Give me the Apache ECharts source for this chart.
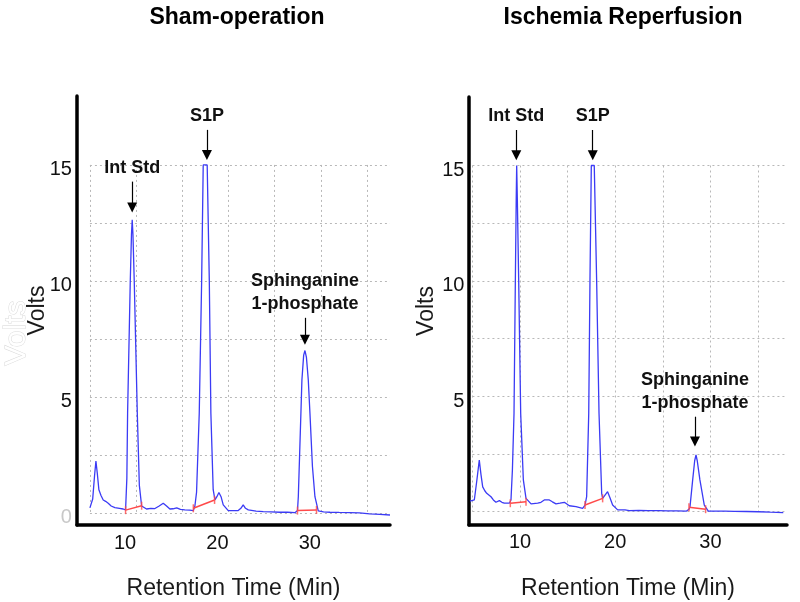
<!DOCTYPE html>
<html>
<head>
<meta charset="utf-8">
<script src="https://cdn.jsdelivr.net/npm/echarts@6/dist/echarts.min.js"></script>
<style>
html,body{margin:0;padding:0;background:#fff;}
#chart{width:800px;height:602px;}
</style>
</head>
<body>
<div id="chart"></div>
<script>
// ---------- data ----------
const panelTitles = ['Sham-operation', 'Ischemia Reperfusion'];
const xAxisTitle = 'Retention Time (Min)';
const yAxisTitle = 'Volts';
const xTickLabels = [10, 20, 30];
const yTickLabels = [5, 10, 15];
const peakNames = ['Int Std', 'S1P', 'Sphinganine\n1-phosphate'];

// Sham-operation chromatogram
const shamTime = [5.0,5.3,5.5,5.65,5.8,5.97,6.2,6.44,6.7,6.98,7.3,7.7,8.2,8.6,8.86,9.0,9.08,9.37,9.5,9.58,9.66,9.8,10.13,10.35,10.6,11.13,11.6,12.04,12.5,12.94,13.3,13.66,14.0,14.4,14.8,15.28,15.8,16.2,16.37,16.55,16.84,17.1,17.27,17.7,17.93,18.1,18.35,18.54,18.75,18.97,19.2,19.44,19.98,20.16,21.06,21.35,21.6,21.85,22.15,23.0,23.77,24.6,25.58,26.4,27.2,27.48,27.57,27.85,27.96,28.15,28.29,28.45,28.65,28.83,29.1,29.37,29.73,30.3,31.0,32.0,33.16,34.2,35.3,36.4,37.5];
const shamVolts = [0.22,0.6,1.6,2.24,1.7,1.0,0.75,0.56,0.5,0.42,0.3,0.23,0.2,0.17,0.13,1.5,4.3,10.0,12.0,12.63,12.0,10.0,4.3,1.2,0.3,0.17,0.2,0.19,0.3,0.42,0.3,0.17,0.18,0.22,0.15,0.13,0.12,0.1,0.3,0.9,4.3,10.0,15.0,15.0,10.0,4.3,1.0,0.56,0.7,0.88,0.7,0.35,0.1,0.09,0.1,0.2,0.35,0.2,0.13,0.08,0.06,0.05,0.03,0.03,0.01,0.1,0.7,4.3,5.73,6.8,7.0,6.7,5.73,4.3,2.0,0.7,0.09,0.05,0.03,0.02,0.01,0.0,-0.04,-0.06,-0.09];
// integration baselines: [startTime, startVolts, endTime, endVolts]
const shamBaselines = [[8.86,0.12,10.6,0.31],[16.2,0.2,18.5,0.56],[27.48,0.1,29.54,0.13]];
const shamArrowX = [9.58, 17.67, 28.29];
const shamArrowTail = [14.28, 16.51, 8.41];
const shamArrowHead = [13.16, 15.43, 7.46];

// Ischemia Reperfusion chromatogram
const ischTime = [4.75,5.2,5.45,5.72,5.9,6.08,6.3,6.5,6.95,7.2,7.47,7.83,8.1,8.35,8.88,9.05,9.2,9.37,9.51,9.6,9.65,9.72,9.86,10.07,10.35,10.63,11.16,11.86,12.2,12.55,13.08,13.4,13.78,14.2,14.66,15.18,15.88,16.58,16.83,17.0,17.22,17.35,17.49,17.8,18.05,18.3,18.58,18.68,18.95,19.2,19.45,19.73,20.26,21.03,21.48,22.5,23.5,24.53,25.5,26.5,27.5,27.75,27.86,28.14,28.35,28.49,28.62,28.9,29.36,29.78,30.6,31.53,32.5,33.8,35.03,36.3,37.66];
const ischVolts = [0.45,0.5,1.3,2.23,1.6,1.07,0.9,0.79,0.64,0.5,0.4,0.47,0.4,0.36,0.36,0.5,1.8,4.26,10.03,13.5,15.0,13.5,10.03,4.26,1.37,0.57,0.33,0.36,0.4,0.5,0.5,0.42,0.33,0.36,0.4,0.25,0.21,0.14,0.28,0.64,4.26,10.03,15.0,15.0,10.03,4.26,0.79,0.57,0.72,0.86,0.6,0.28,0.07,0.07,0.04,0.05,0.04,0.04,0.03,0.03,0.02,0.1,0.21,1.37,2.2,2.45,2.2,1.37,0.28,0.02,0.02,0.02,0.01,0.0,-0.01,-0.03,-0.05];
const ischBaselines = [[8.98,0.36,10.63,0.42],[16.83,0.28,18.68,0.57],[27.75,0.18,29.5,0.1]];
const ischArrowX = [9.61, 17.64, 28.38];
const ischArrowTail = [16.54, 16.54, 4.11];
const ischArrowHead = [15.45, 15.45, 3.03];

// axis extents (minutes / volts)
const shamXRange = [3.6, 37.5];
const shamYRange = [-0.52, 17.97];
const ischXRange = [4.64, 38.05];
const ischYRange = [-0.585, 17.97];
const gridTime = [5, 35];     // dotted grid box
const gridVolts = [0, 15];

// ---------- layout ----------
const FONT = "'Liberation Sans', Arial, sans-serif";
const panels = [
  {time: shamTime, volts: shamVolts, base: shamBaselines, ax: shamArrowX, at: shamArrowTail, ah: shamArrowHead,
   xr: shamXRange, yr: shamYRange, box: {left: 77, top: 96, right: 390, bottom: 525},
   titleX: 232, labelShift: 22, yLabelMargin: 18, showZero: true, nameGapY: 28},
  {time: ischTime, volts: ischVolts, base: ischBaselines, ax: ischArrowX, at: ischArrowTail, ah: ischArrowHead,
   xr: ischXRange, yr: ischYRange, box: {left: 469, top: 97, right: 787, bottom: 525},
   titleX: 618, labelShift: 0, yLabelMargin: 8, showZero: false, nameGapY: 31}
];

const grids = [], xAxes = [], yAxes = [], series = [], titles = [];

panels.forEach((p, i) => {
  const b = p.box;
  const w = b.right - b.left, h = b.bottom - b.top;
  // main grid: axis lines + data
  grids.push({left: b.left, top: b.top, width: w, height: h, containLabel: false, outerBoundsMode: 'none'});
  // frame grid: dotted grid box, same scale
  const fx0 = b.left + (gridTime[0] - p.xr[0]) / (p.xr[1] - p.xr[0]) * w;
  const fy1 = b.top + (p.yr[1] - gridVolts[1]) / (p.yr[1] - p.yr[0]) * h;
  const fy0 = b.top + (p.yr[1] - gridVolts[0]) / (p.yr[1] - p.yr[0]) * h;
  grids.push({left: fx0, top: fy1, width: b.right - fx0, height: fy0 - fy1, containLabel: false, outerBoundsMode: 'none'});

  const mainIdx = 2 * i, frameIdx = 2 * i + 1;

  xAxes.push({
    gridIndex: mainIdx, type: 'value', min: p.xr[0], max: p.xr[1],
    axisLine: {show: true, onZero: false, lineStyle: {color: '#000', width: 3.5}},
    axisTick: {show: false}, axisLabel: {show: false}, splitLine: {show: false},
    name: xAxisTitle, nameLocation: 'middle', nameGap: 52,
    nameTextStyle: {fontFamily: FONT, fontSize: 23, color: '#1a1a1a'}
  });
  yAxes.push({
    gridIndex: mainIdx, type: 'value', min: p.yr[0], max: p.yr[1],
    axisLine: {show: true, onZero: false, lineStyle: {color: '#000', width: 3.5}},
    axisTick: {show: false}, axisLabel: {show: false}, splitLine: {show: false},
    name: yAxisTitle, nameLocation: 'middle', nameGap: p.nameGapY,
    nameTextStyle: {fontFamily: FONT, fontSize: 23, color: '#1a1a1a'}
  });
  xAxes.push({
    gridIndex: frameIdx, type: 'value', min: gridTime[0], max: p.xr[1], interval: 5,
    axisLine: {show: false, onZero: false}, axisTick: {show: false},
    splitLine: {show: true, showMaxLine: false, lineStyle: {color: '#b8b8b8', type: [2, 3], width: 1}},
    axisLabel: {
      show: true, margin: 21, fontFamily: FONT, fontSize: 20, color: '#111',
      padding: [0, p.labelShift, 0, 0], showMaxLabel: false,
      formatter: v => xTickLabels.indexOf(Math.round(v * 100) / 100) >= 0 ? String(v) : ''
    }
  });
  yAxes.push({
    gridIndex: frameIdx, type: 'value', min: gridVolts[0], max: gridVolts[1], interval: 2.5,
    axisLine: {show: false, onZero: false}, axisTick: {show: false},
    splitLine: {show: true, lineStyle: {color: '#b8b8b8', type: [2, 3], width: 1}},
    axisLabel: {
      show: true, margin: p.yLabelMargin, fontFamily: FONT, fontSize: 20, color: '#111',
      padding: [10, 0, 0, 0],
      formatter: v => {
        if (v === 0) return p.showZero ? '{g|0}' : '';
        return yTickLabels.indexOf(v) >= 0 ? String(v) : '';
      },
      rich: {g: {color: '#c8c8c8', fontSize: 20, fontFamily: FONT}}
    }
  });

  const xi = 2 * i, yi = 2 * i;
  // chromatogram trace with peak annotations
  series.push({
    type: 'line', xAxisIndex: xi, yAxisIndex: yi,
    data: p.time.map((t, k) => [t, p.volts[k]]),
    showSymbol: false, symbol: 'none', smooth: false, clip: false,
    lineStyle: {color: '#3b3bf5', width: 1.3},
    z: 3, animation: false,
    markLine: {
      silent: true, animation: false, symbol: ['none', 'triangle'], symbolSize: 10,
      lineStyle: {color: '#000', width: 1.2, type: 'solid'},
      itemStyle: {color: '#000'},
      label: {show: true, position: 'start', distance: 2, formatter: '{b}',
        fontFamily: FONT, fontSize: 18, fontWeight: 'bold', color: '#111', lineHeight: 23, align: 'center'},
      data: peakNames.map((n, k) => [
        {name: n, coord: [p.ax[k], p.at[k]]},
        {coord: [p.ax[k], p.ah[k]]}
      ])
    }
  });
  // integration baselines
  p.base.forEach(seg => {
    series.push({
      type: 'line', xAxisIndex: xi, yAxisIndex: yi,
      data: [[seg[0], seg[1]], [seg[2], seg[3]]],
      showSymbol: false, symbol: 'none', lineStyle: {color: '#ff4a4a', width: 1.5},
      z: 4, animation: false
    });
  });
  series.push({
    type: 'scatter', xAxisIndex: xi, yAxisIndex: yi,
    data: p.base.flatMap(seg => [[seg[0], seg[1]], [seg[2], seg[3]]]),
    symbol: 'rect', symbolSize: [1.5, 8], itemStyle: {color: '#ff4a4a'},
    z: 4, animation: false, silent: true
  });

  titles.push({
    text: panelTitles[i], left: p.titleX, top: 1, textAlign: 'center',
    textStyle: {fontFamily: FONT, fontSize: 23, fontWeight: 'bold', color: '#000'}
  });
});

const chart = echarts.init(document.getElementById('chart'), null, {renderer: 'canvas'});
chart.setOption({
  backgroundColor: '#fff',
  animation: false,
  title: titles,
  grid: grids,
  xAxis: xAxes,
  yAxis: yAxes,
  series: series,
  graphic: [{
    type: 'text', x: 17, y: 333, rotation: Math.PI / 2, silent: true,
    style: {text: 'Volts', fontFamily: FONT, fontSize: 30, fill: '#fff', stroke: '#dadada', lineWidth: 1,
      textAlign: 'center', textVerticalAlign: 'middle'}
  }]
});
</script>
</body>
</html>
